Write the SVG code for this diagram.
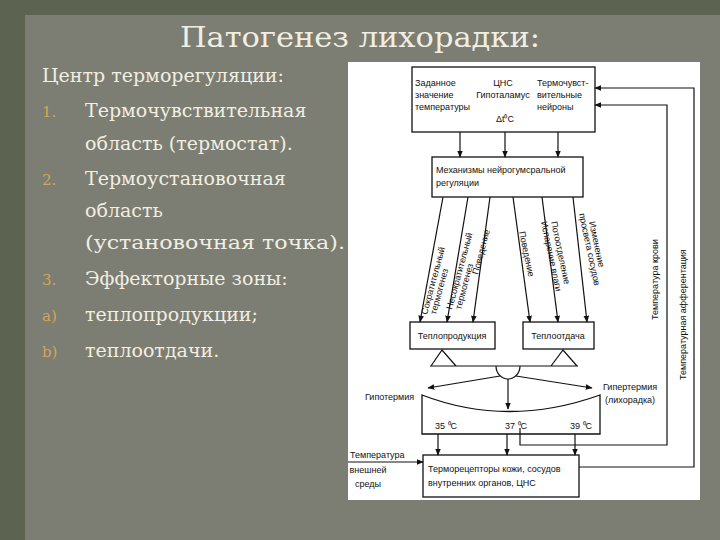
<svg xmlns="http://www.w3.org/2000/svg" width="720" height="540" viewBox="0 0 720 540">
<defs>
<marker id="ah" viewBox="0 0 10 10" refX="9" refY="5" markerWidth="7" markerHeight="7" orient="auto-start-reverse" markerUnits="userSpaceOnUse"><path d="M0,1 L10,5 L0,9 Z" fill="#111"/></marker>
<style>
.bg{fill:#5d6351}
.panel{fill:#7c7e73}
.t{font-family:"DejaVu Serif","Liberation Serif",serif;fill:#f1eee2}
.n{font-family:"DejaVu Serif","Liberation Serif",serif;fill:#d1a55a}
.d{font-family:"Liberation Sans",Arial,sans-serif;font-size:9px;fill:#111}
.box{fill:#fff;stroke:#111;stroke-width:1.3}
.ln{stroke:#111;stroke-width:1.2;fill:none}
.ar{stroke:#111;stroke-width:1.2;fill:none;marker-end:url(#ah)}
</style>
</defs>
<rect class="bg" width="720" height="540"/>
<rect class="panel" x="25" y="15" width="695" height="525"/>
<text class="t" x="180" y="47" font-size="27" textLength="360" lengthAdjust="spacingAndGlyphs">Патогенез лихорадки:</text>
<rect x="348" y="62" width="352" height="438" fill="#fff"/>
<g id="list" font-size="19">
<text class="t" x="42" y="82">Центр терморегуляции:</text>
<text class="n" x="42" y="117" font-size="15">1.</text><text class="t" x="85" y="117">Термочувствительная</text>
<text class="t" x="85" y="150">область (термостат).</text>
<text class="n" x="42" y="185" font-size="15">2.</text><text class="t" x="85" y="185">Термоустановочная</text>
<text class="t" x="85" y="217">область</text>
<text class="t" x="85" y="249" textLength="260" lengthAdjust="spacingAndGlyphs">(установочная точка).</text>
<text class="n" x="42" y="285" font-size="15">3.</text><text class="t" x="85" y="285">Эффекторные зоны:</text>
<text class="n" x="42" y="321" font-size="15">a)</text><text class="t" x="85" y="321">теплопродукции;</text>
<text class="n" x="42" y="357" font-size="15">b)</text><text class="t" x="85" y="357">теплоотдачи.</text>
</g>
<g id="cns">
<rect class="box" x="412" y="67" width="183" height="65"/>
<text class="d" x="415" y="86">Заданное</text><text class="d" x="415" y="98">значение</text><text class="d" x="415" y="110">температуры</text>
<text class="d" x="503" y="86" text-anchor="middle">ЦНС</text><text class="d" x="503" y="98" text-anchor="middle">Гипоталамус</text>
<text class="d" x="505" y="122" text-anchor="middle" font-size="10">Δt⁰C</text>
<text class="d" x="537" y="86">Термочувст-</text><text class="d" x="537" y="98">вительные</text><text class="d" x="537" y="110">нейроны</text>
</g>
<g id="mech">
<rect class="box" x="432" y="157" width="151" height="40"/>
<text class="d" x="436" y="173">Механизмы нейрогумсральной</text><text class="d" x="436" y="186">регуляции</text>
</g>
<g id="prod"><rect class="box" x="410" y="322" width="85" height="27"/><text class="d" x="452" y="339" text-anchor="middle">Теплопродукция</text></g>
<g id="loss"><rect class="box" x="523" y="322" width="71" height="27"/><text class="d" x="558" y="339" text-anchor="middle">Теплоотдача</text></g>
<g id="scale">
<path class="box" d="M422,395 Q508,428 600,395 L600,434 L422,434 Z"/>
<text class="d" x="435" y="429">35 ⁰C</text><text class="d" x="505" y="429">37 ⁰C</text><text class="d" x="570" y="429">39 ⁰C</text>
</g>
<g id="recept">
<rect class="box" x="423" y="455" width="156" height="42"/>
<text class="d" x="428" y="472">Терморецепторы кожи, сосудов</text><text class="d" x="428" y="486">внутренних органов, ЦНС</text>
</g>
<g id="labels">
<text class="d" x="365" y="400">Гипотермия</text>
<text class="d" x="603" y="390">Гипертермия</text><text class="d" x="605" y="403">(лихорадка)</text>
<text class="d" x="350" y="458">Температура</text><text class="d" x="368" y="473" text-anchor="middle">внешней</text><text class="d" x="368" y="487" text-anchor="middle">среды</text>
<text class="d" transform="translate(658,320) rotate(-90)">Температура крови</text>
<text class="d" transform="translate(686,380) rotate(-90)">Температурная афферентация</text>
<text class="d" font-size="8" transform="translate(427,315) rotate(-75)">Сократительный</text>
<text class="d" font-size="8" transform="translate(436,315) rotate(-75)">термогенез</text>
<text class="d" font-size="8" transform="translate(452,310) rotate(-75)">Несократительный</text>
<text class="d" font-size="8" transform="translate(461,310) rotate(-75)">термогенез</text>
<text class="d" font-size="8" transform="translate(478,275) rotate(-75)">Поведение</text>
<text class="d" font-size="8" transform="translate(519,232) rotate(78)">Поведение</text>
<text class="d" font-size="8" transform="translate(551,222) rotate(78)">Потоотделение</text>
<text class="d" font-size="8" transform="translate(541,222) rotate(78)">Испарение влаги</text>
<text class="d" font-size="8" transform="translate(589,222) rotate(78)">Изменение</text>
<text class="d" font-size="8" transform="translate(579,214) rotate(78)">просвета сосудов</text>
</g>
<g id="connectors">
<line class="ar" x1="460" y1="132" x2="460" y2="157"/>
<line class="ar" x1="505" y1="132" x2="505" y2="157"/>
<line class="ar" x1="558" y1="132" x2="558" y2="157"/>
<line class="ar" x1="443" y1="197" x2="420" y2="322"/>
<line class="ar" x1="468" y1="197" x2="447" y2="322"/>
<line class="ar" x1="490" y1="197" x2="473" y2="322"/>
<line class="ar" x1="513" y1="197" x2="530" y2="322"/>
<line class="ar" x1="542" y1="197" x2="558" y2="322"/>
<line class="ar" x1="573" y1="197" x2="587" y2="322"/>
<path class="ln" d="M431,366 L442,350 L456,366 M551,366 L563,350 L577,366 M430,366 L578,366"/>
<path class="ln" d="M496,366 A12,13 0 0 0 520,366"/>
<line class="ar" x1="500" y1="376" x2="428" y2="388"/>
<line class="ar" x1="508" y1="379" x2="508" y2="409"/>
<line class="ar" x1="516" y1="376" x2="592" y2="388"/>
<line class="ar" x1="438" y1="434" x2="438" y2="455"/>
<line class="ar" x1="507" y1="434" x2="507" y2="455"/>
<line class="ar" x1="575" y1="434" x2="575" y2="455"/>
<line class="ar" x1="348" y1="462" x2="423" y2="462"/>
<path class="ar" d="M520,428 L520,445 L667,445 L667,105 L595,105"/>
<path class="ar" d="M579,467 L694,467 L694,88 L595,88"/>
</g>
</svg>
